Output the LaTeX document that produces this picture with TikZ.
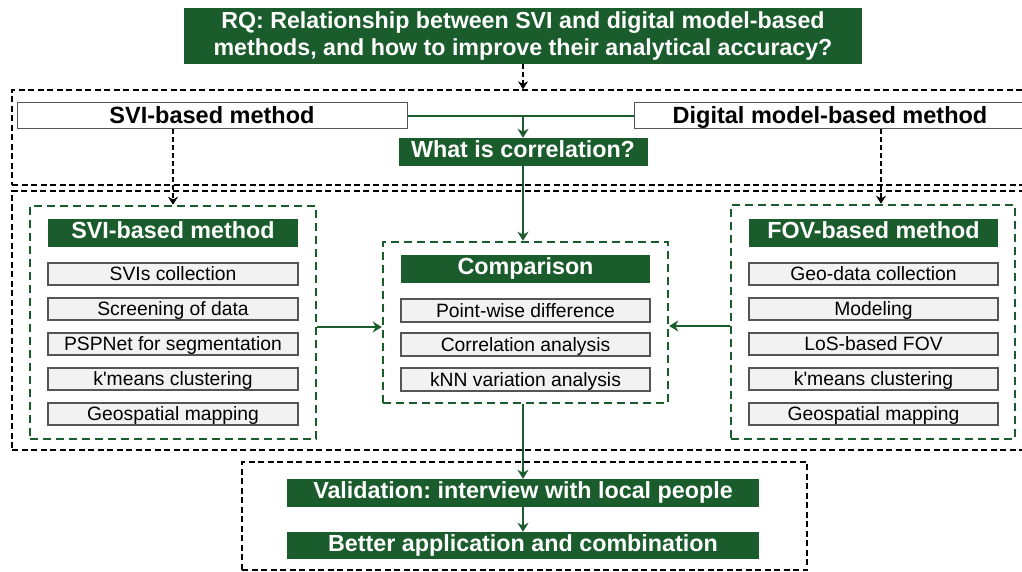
\documentclass[tikz,border=0pt]{standalone}
\usepackage{fontspec}
\setmainfont{Liberation Sans}[Ligatures=TeXOff]
\usetikzlibrary{arrows.meta}
\frenchspacing
\definecolor{dkgreen}{RGB}{26,92,44}
\definecolor{itemgrey}{RGB}{242,242,242}
\definecolor{itemedge}{RGB}{85,85,85}
\tikzset{
  greenbox/.style={fill=dkgreen, draw=none, text=white, font=\bfseries\fontsize{23.3}{27}\selectfont, inner sep=0pt, align=center},
  greenbar/.style={greenbox, text height=16.7pt, text depth=5pt},
  whitebox/.style={fill=white, draw=itemedge, line width=1pt, font=\bfseries\fontsize{23.5}{27}\selectfont, inner sep=0pt, text height=16.8pt, text depth=1pt},
  itembox/.style={fill=itemgrey, draw=itemedge, line width=1.2pt, font=\fontsize{19.3}{22}\selectfont, inner sep=0pt, minimum height=22pt, text height=13.8pt, text depth=0pt},
  blackframe/.style={draw=black, line width=1.4pt, dash pattern=on 6pt off 3.5pt, inner sep=0pt},
  greenframe/.style={draw=dkgreen, line width=2.5pt, dash pattern=on 8pt off 5pt, inner sep=0pt},
  greenarrow/.style={draw=dkgreen, line width=1.5pt, -{Stealth[length=9pt,width=11pt]}},
  greenline/.style={draw=dkgreen, line width=1.5pt},
  blackarrow/.style={draw=black, line width=1.4pt, dash pattern=on 5pt off 3pt, -{Stealth[length=8pt,width=10pt]}},
}
\begin{document}
\begin{tikzpicture}[x=1pt, y=-1pt]
\useasboundingbox (0,0) rectangle (1022,572);
\clip (0,0) rectangle (1022,572);
\fill[white] (0,0) rectangle (1022,572);

% outer dashed frames
\node[blackframe, minimum width=1018pt, minimum height=95pt] (outerA) at (521,137.5) {};
\node[blackframe, minimum width=1018pt, minimum height=259pt] (outerB) at (521,320.5) {};
\node[blackframe, minimum width=565pt, minimum height=108pt] (outerC) at (524.5,516) {};

% research question
\node[greenbox, minimum width=678pt, minimum height=56pt, font=\bfseries\fontsize{23.2}{27.5}\selectfont] (rq) at (523,36)
  {RQ: Relationship between SVI and digital model-based\\methods, and how to improve their analytical accuracy?};

% two approaches
\node[whitebox, minimum width=390pt, minimum height=26pt] (sviTop) at (212,116) {SVI-based method};
\node[whitebox, minimum width=392pt, minimum height=26pt] (dmTop) at (830,116) {Digital model-based method};
\node[greenbar, minimum width=249pt, minimum height=28pt] (corr) at (523,152) {What is correlation?};

% SVI-based method
\node[greenframe, minimum width=286pt, minimum height=233pt] (sviFrame) at (173,322.5) {};
\node[greenbar, minimum width=250pt, minimum height=28pt] (sviHead) at (173,233) {SVI-based method};
\node[itembox, minimum width=250pt] (s1) at (173,274) {SVIs collection};
\node[itembox, minimum width=250pt] (s2) at (173,309) {Screening of data};
\node[itembox, minimum width=250pt] (s3) at (173,344) {PSPNet for segmentation};
\node[itembox, minimum width=250pt] (s4) at (173,379) {k'means clustering};
\node[itembox, minimum width=250pt] (s5) at (173,414) {Geospatial mapping};

% comparison
\node[greenframe, minimum width=285pt, minimum height=161pt] (cmpFrame) at (525.5,322.5) {};
\node[greenbar, minimum width=249pt, minimum height=28pt] (cmpHead) at (525.5,269) {Comparison};
\node[itembox, minimum width=249pt, minimum height=23pt] (c1) at (525.5,310.5) {Point-wise difference};
\node[itembox, minimum width=249pt, minimum height=23pt] (c2) at (525.5,344.5) {Correlation analysis};
\node[itembox, minimum width=249pt, minimum height=23pt] (c3) at (525.5,379.5) {kNN variation analysis};

% FOV-based method
\node[greenframe, minimum width=284pt, minimum height=234pt] (fovFrame) at (873,322) {};
\node[greenbar, minimum width=249pt, minimum height=28pt] (fovHead) at (873.5,233) {FOV-based method};
\node[itembox, minimum width=249pt] (f1) at (873.5,274) {Geo-data collection};
\node[itembox, minimum width=249pt] (f2) at (873.5,309) {Modeling};
\node[itembox, minimum width=249pt] (f3) at (873.5,344) {LoS-based FOV};
\node[itembox, minimum width=249pt] (f4) at (873.5,379) {k'means clustering};
\node[itembox, minimum width=249pt] (f5) at (873.5,414) {Geospatial mapping};

% validation
\node[greenbar, minimum width=472pt, minimum height=28pt] (val) at (523,493) {Validation: interview with local people};
\node[greenbar, minimum width=472pt, minimum height=27pt] (better) at (523,545.5) {Better application and combination};

% connectors
\draw[blackarrow] (rq.south) -- (rq.south |- outerA.north);
\draw[greenline] (sviTop.east) -- (dmTop.west);
\draw[greenarrow] (corr.north |- sviTop.east) -- (corr.north);
\draw[blackarrow] (sviFrame.north |- sviTop.south) -- (sviFrame.north);
\coordinate (dmDrop) at (881,129);
\draw[blackarrow] (dmDrop) -- (dmDrop |- fovFrame.north);
\draw[greenarrow] (corr.south) -- (corr.south |- cmpFrame.north);
\draw[greenarrow] (sviFrame.east |- 0,327) -- (cmpFrame.west |- 0,327);
\draw[greenarrow] (fovFrame.west |- 0,326) -- (cmpFrame.east |- 0,326);
\draw[greenarrow] (cmpFrame.south -| val.north) -- (val.north);
\draw[greenarrow] (val.south) -- (better.north);
\end{tikzpicture}
\end{document}
